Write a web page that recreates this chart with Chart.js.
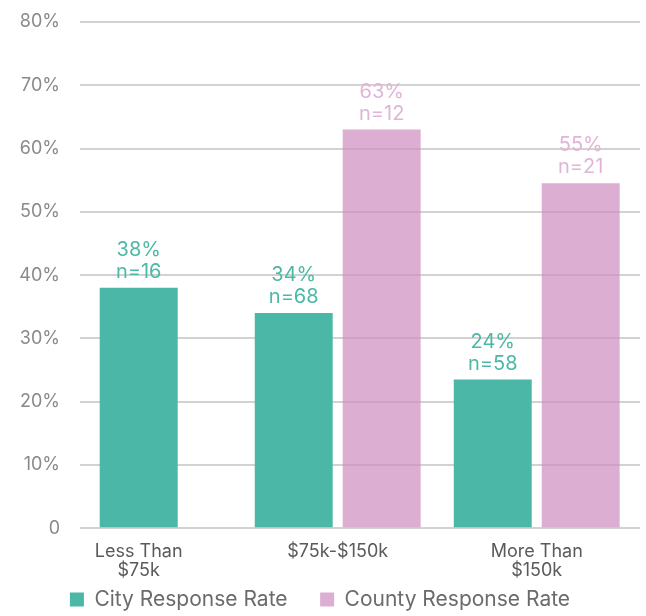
<!DOCTYPE html>
<html>
<head>
<meta charset="utf-8">
<script src="https://cdn.jsdelivr.net/npm/chart.js@4/dist/chart.umd.min.js"></script>
<style>
  html, body { margin: 0; padding: 0; background: #fff; }
  #wrap { width: 646px; height: 616px; position: relative; }
</style>
</head>
<body>
<div id="wrap"><canvas id="chart"></canvas></div>
<script>
// categories (multi-line labels) and values
const categories = [['Less Than', '$75k'], ['$75k-$150k'], ['More Than', '$150k']];
const cityRate = [38, 34, 23.5];
const countyRate = [null, 63, 54.5];
const cityN = [16, 68, 58];
const countyN = [null, 12, 21];
const yTicks = [0, 10, 20, 30, 40, 50, 60, 70, 80];

const TEAL = '#4bb7a6';
const PINK = 'rgba(205, 140, 190, 0.7)';

// value + sample size above each bar
const barLabels = {
  id: 'barLabels',
  afterDatasetsDraw(chart) {
    const ctx = chart.ctx;
    ctx.save();
    ctx.font = '20px Inter, sans-serif';
    ctx.textAlign = 'center';
    ctx.textBaseline = 'alphabetic';
    chart.data.datasets.forEach((ds, di) => {
      const meta = chart.getDatasetMeta(di);
      meta.data.forEach((bar, i) => {
        const v = ds.data[i].y;
        if (v === null) return;
        ctx.fillStyle = ds.labelColor;
        ctx.fillText(Math.round(v) + '%', bar.x, bar.y - 32);
        ctx.fillText('n=' + ds.counts[i], bar.x, bar.y - 10);
      });
    });
    ctx.restore();
  }
};

new Chart(document.getElementById('chart'), {
  type: 'bar',
  data: {
    datasets: [
      {
        label: 'City Response Rate',
        data: cityRate.map((y, i) => ({ x: i, y })),
        counts: cityN,
        backgroundColor: TEAL,
        labelColor: '#4cb8a6',
      },
      {
        label: 'County Response Rate',
        data: countyRate.map((y, i) => ({ x: i, y })),
        counts: countyN,
        backgroundColor: PINK,
        labelColor: '#e0b5d8',
      },
    ],
  },
  options: {
    responsive: true,
    maintainAspectRatio: false,
    animation: false,
    skipNull: true,
    categoryPercentage: 0.884,
    barPercentage: 0.886,
    maxBarThickness: 78,
    layout: { padding: { top: 22, right: 6, bottom: -4, left: 0 } },
    plugins: {
      tooltip: { enabled: false },
      legend: {
        position: 'bottom',
        labels: {
          boxWidth: 14,
          boxHeight: 14,
          padding: 3,
          color: '#6b6b6b',
          font: { family: 'Inter', size: 21 },
          // widen the gap between the two entries without growing the legend height
          generateLabels: (chart) => {
            const items = Chart.defaults.plugins.legend.labels.generateLabels(chart);
            items[0].text += '     ';
            return items;
          },
        },
      },
    },
    scales: {
      x: {
        type: 'linear',
        offset: false,
        min: -0.295,
        max: 2.519,
        grid: { display: false, offset: false },
        border: { display: false },
        afterBuildTicks: (axis) => { axis.ticks = categories.map((c, i) => ({ value: i })); },
        ticks: {
          autoSkip: false,
          maxRotation: 0,
          padding: 6,
          color: '#5a5a5a',
          font: { family: 'Inter', size: 18, lineHeight: 1.05 },
          callback: (v) => categories[v],
        },
      },
      y: {
        min: 0,
        max: 80,
        afterFit: (axis) => { axis.width = 80; },
        afterBuildTicks: (axis) => { axis.ticks = yTicks.map(v => ({ value: v })); },
        border: { display: false },
        grid: { color: '#d2d2d2', lineWidth: 2, tickLength: 20, tickColor: 'transparent' },
        ticks: {
          padding: 0,
          color: '#8a8a8a',
          font: { family: 'Inter', size: 18 },
          callback: (v) => v === 0 ? '0' : v + '%',
        },
      },
    },
  },
  plugins: [barLabels],
});
</script>
</body>
</html>
